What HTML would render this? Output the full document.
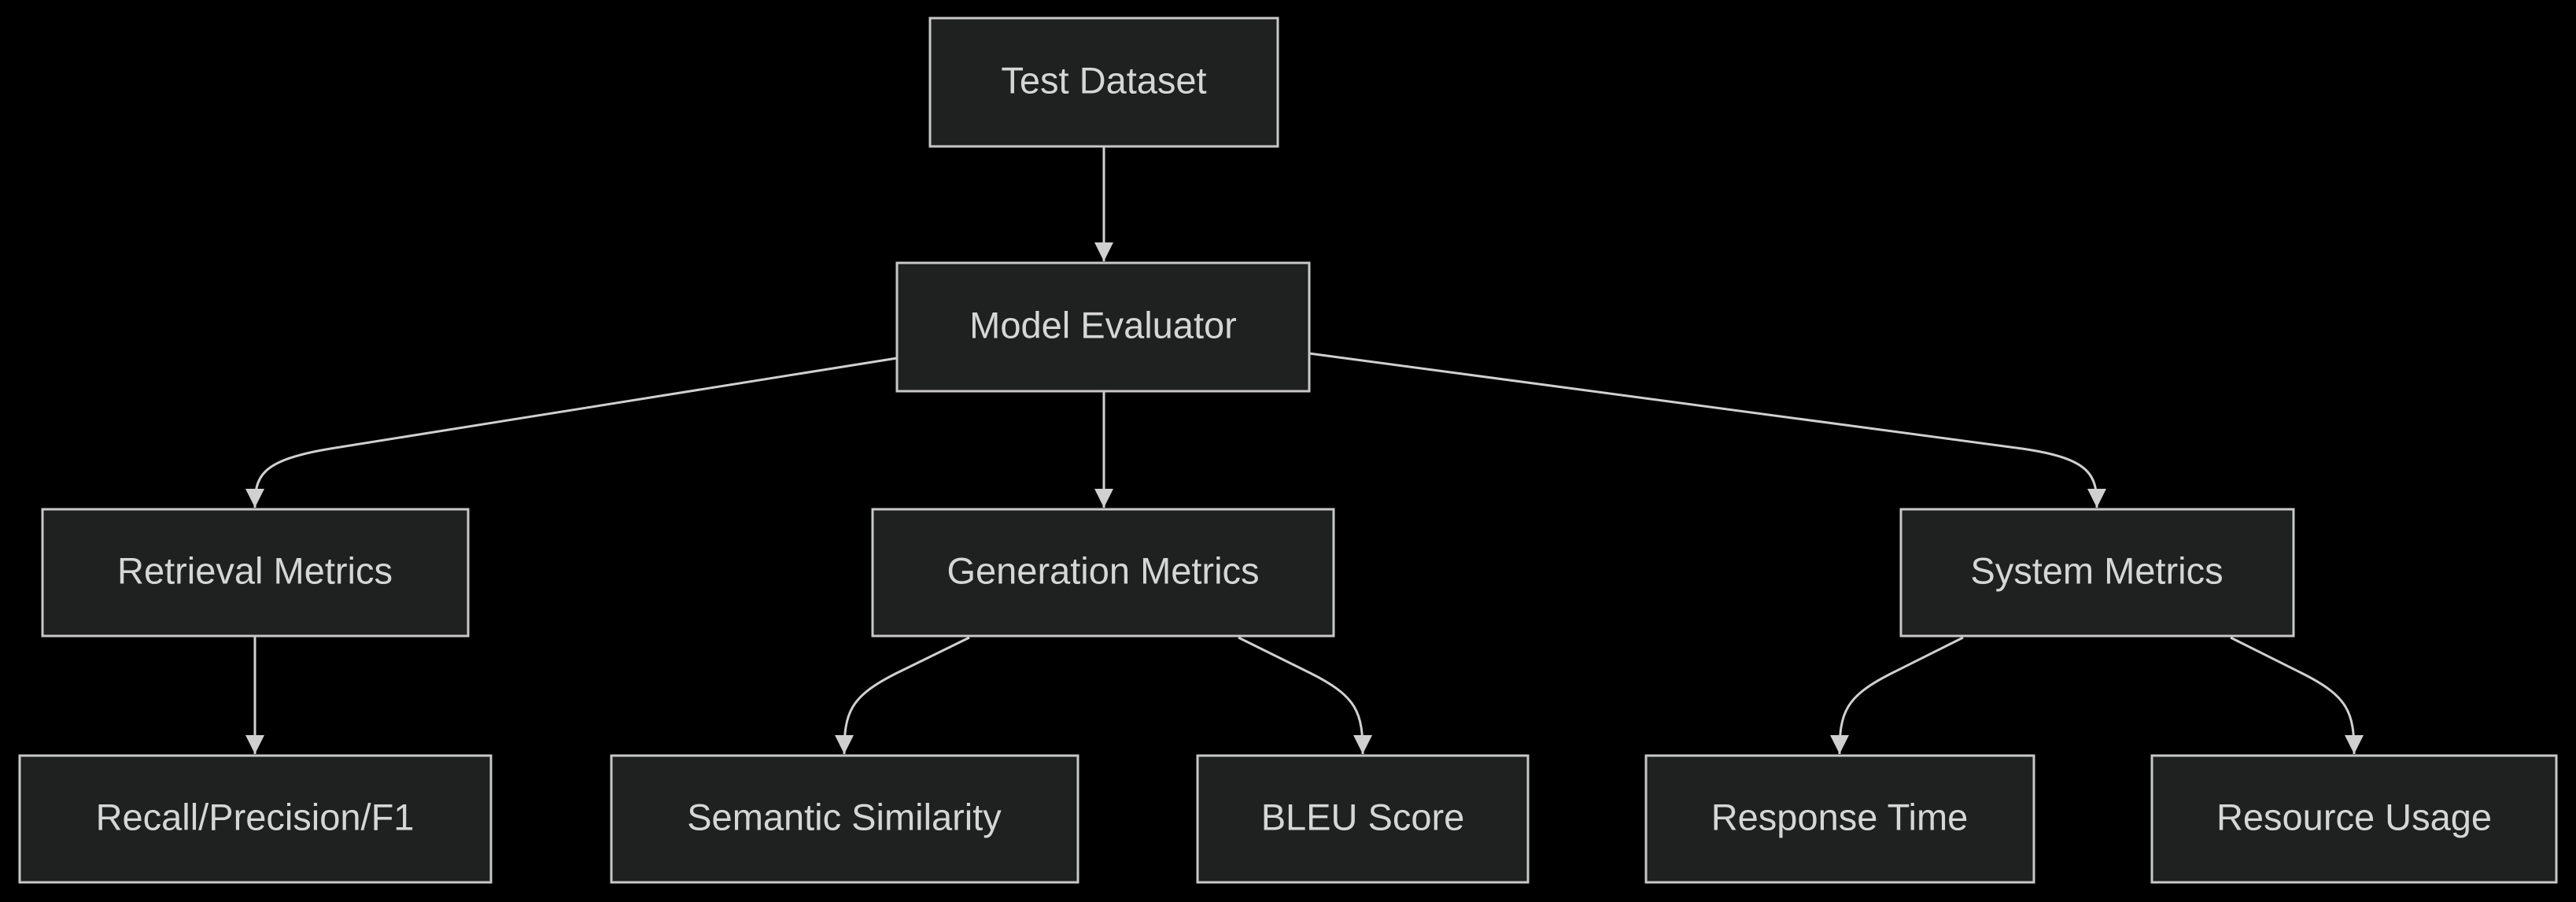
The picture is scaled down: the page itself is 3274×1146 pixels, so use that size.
<!DOCTYPE html>
<html><head><meta charset="utf-8"><style>
html,body{margin:0;padding:0;background:#000;}
svg{display:block;}
text{font-family:"Liberation Sans","DejaVu Sans",sans-serif;font-size:47px;fill:#d6d6d6;text-anchor:middle;dominant-baseline:central;}
rect{fill:#1f2020;stroke:#c8c8c8;stroke-width:3;}
path.e{fill:none;stroke:#d0d0d0;stroke-width:3;}
</style></head><body>
<svg width="3274" height="1146" viewBox="0 0 3274 1146" xmlns="http://www.w3.org/2000/svg">
<defs>
<marker id="b" viewBox="0 0 10 10" refX="10" refY="5" markerWidth="24" markerHeight="24" markerUnits="userSpaceOnUse" orient="auto"><path d="M0,0 L10,5 L0,10 z" fill="#d0d0d0"/></marker></defs>
<path class="e" d="M1403,186 L1403,332" marker-end="url(#b)"/>
<path class="e" d="M1403,497 L1403,645" marker-end="url(#b)"/>
<path class="e" d="M1140,455 L420,570 C330,585 324,605 324,645" marker-end="url(#b)"/>
<path class="e" d="M1664,449 L2570,570 C2660,583 2665,605 2665,645" marker-end="url(#b)"/>
<path class="e" d="M324,808 L324,958" marker-end="url(#b)"/>
<path class="e" d="M1232,810 L1140,855 C1080,885 1073,905 1073,958" marker-end="url(#b)"/>
<path class="e" d="M1574,810 L1665,855 C1725,885 1732,905 1732,958" marker-end="url(#b)"/>
<path class="e" d="M2495,810 L2405,855 C2345,885 2338,905 2338,958" marker-end="url(#b)"/>
<path class="e" d="M2835,810 L2925,855 C2985,885 2992,905 2992,958" marker-end="url(#b)"/>
<rect x="1182" y="23" width="442" height="163"/><text x="1403" y="102">Test Dataset</text>
<rect x="1140" y="334" width="524" height="163"/><text x="1402" y="413">Model Evaluator</text>
<rect x="54" y="647" width="541" height="161"/><text x="324" y="725">Retrieval Metrics</text>
<rect x="1109" y="647" width="586" height="161"/><text x="1402" y="725">Generation Metrics</text>
<rect x="2416" y="647" width="499" height="161"/><text x="2665" y="725">System Metrics</text>
<rect x="25" y="960" width="599" height="161"/><text x="324" y="1038">Recall/Precision/F1</text>
<rect x="777" y="960" width="593" height="161"/><text x="1073" y="1038">Semantic Similarity</text>
<rect x="1522" y="960" width="420" height="161"/><text x="1732" y="1038">BLEU Score</text>
<rect x="2092" y="960" width="493" height="161"/><text x="2338" y="1038">Response Time</text>
<rect x="2735" y="960" width="514" height="161"/><text x="2992" y="1038">Resource Usage</text>
</svg>
</body></html>
